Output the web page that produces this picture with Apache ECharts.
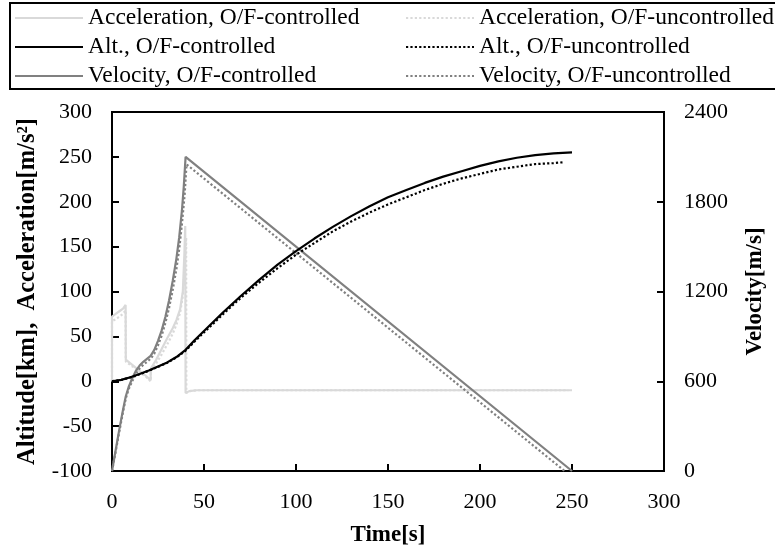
<!DOCTYPE html>
<html>
<head>
<meta charset="utf-8">
<script src="https://cdn.jsdelivr.net/npm/echarts@6/dist/echarts.min.js"></script>
<style>html,body{margin:0;padding:0;background:#fff}#c{width:775px;height:552px}</style>
</head>
<body>
<div id="c"></div>
<script>
// ---- data ----
const seriesNames = [
  'Acceleration, O/F-controlled', 'Acceleration, O/F-uncontrolled',
  'Alt., O/F-controlled', 'Alt., O/F-uncontrolled',
  'Velocity, O/F-controlled', 'Velocity, O/F-uncontrolled'
];
const xTicks = [0, 50, 100, 150, 200, 250, 300];
const leftTicks = [-100, -50, 0, 50, 100, 150, 200, 250, 300];
const rightTicks = [0, 600, 1200, 1800, 2400];

// Acceleration [m/s2]
const accelCtrlT = [0, 0, 2, 4, 6, 7.4, 7.5, 10, 13, 16, 19, 21, 21.1, 24, 27, 30, 33, 35, 37, 38.5, 39.3, 39.8, 40, 42, 46, 50, 100, 150, 200, 250];
const accelCtrlV = [0, 72, 75, 78, 81, 85, 24, 20, 15, 10, 5, 1, 14, 24, 36, 48, 59, 68, 80, 100, 140, 173, -13, -11, -10, -10, -10, -10, -10, -10];
const accelUncT = [0, 0, 2, 4, 6, 7.4, 7.5, 10, 13, 16, 19, 21, 21.1, 24, 27, 30, 33, 35, 37, 38.5, 39.5, 40.3, 40.4, 42, 46, 50, 100, 150, 200, 248];
const accelUncV = [0, 67, 69, 72, 75, 79, 22, 18, 14, 9, 4, 0, 12, 20, 30, 41, 53, 63, 76, 95, 125, 160, -13, -11, -10, -10, -10, -10, -10, -10];

// Altitude [km]
const altCtrlT = [0, 5, 10, 15, 20, 25, 30, 35, 40, 45, 50, 60, 70, 80, 90, 100, 110, 120, 130, 140, 150, 160, 170, 180, 190, 200, 210, 220, 230, 240, 250];
const altCtrlV = [0, 1.5, 4.5, 8, 12, 16.5, 21, 27, 35, 46, 56, 76, 95, 113, 130, 145, 159, 172, 184, 195, 205, 213, 221, 228, 234, 240, 245, 249, 252, 254, 255];
const altUncT = [0, 5, 10, 15, 20, 25, 30, 35, 40, 45, 50, 60, 70, 80, 90, 100, 110, 120, 130, 140, 150, 160, 170, 180, 190, 200, 210, 220, 230, 240, 245];
const altUncV = [0, 1.4, 4.3, 7.8, 11.7, 16, 20.5, 26.5, 34, 44.5, 54.5, 74, 93, 110, 126, 141, 154, 167, 178, 188, 197, 205, 213, 220, 226, 231, 236, 239, 242, 243, 244];

// Velocity [m/s]
const velCtrlT = [0, 1, 2, 3, 4, 5, 6, 7, 7.5, 9, 11, 13, 15, 17, 19, 21, 23, 25, 27, 29, 31, 33, 35, 36.5, 38, 39, 40, 250];
const velCtrlV = [0, 70, 140, 210, 280, 345, 410, 470, 500, 560, 620, 670, 705, 730, 750, 770, 810, 870, 940, 1030, 1140, 1270, 1420, 1560, 1740, 1900, 2100, 0];
const velUncT = [0, 2, 4, 6, 7.5, 9, 11, 13, 15, 17, 19, 21, 23, 25, 27, 29, 31, 33, 35, 36.5, 38, 39.5, 40.5, 246];
const velUncV = [0, 130, 265, 395, 485, 545, 600, 650, 685, 710, 730, 750, 785, 840, 905, 990, 1090, 1210, 1350, 1480, 1650, 1850, 2050, 0];

// ---- build ----
function zip(t, v) { return t.map((x, i) => [x, v[i]]); }
const FONT = '"Liberation Serif", "Times New Roman", serif';
const LIGHT = '#d9d9d9', GRAY = '#808080', BLACK = '#000000';

function lineSeries(name, t, v, color, dotted, yIdx, z) {
  return {
    name: name, type: 'line', yAxisIndex: yIdx, data: zip(t, v),
    showSymbol: false, symbol: 'none', smooth: false, z: z,
    lineStyle: { color: color, width: 2.2, type: dotted ? [2.2, 2.2] : 'solid' },
    itemStyle: { color: color },
    emphasis: { disabled: true }, animation: false
  };
}

const chart = echarts.init(document.getElementById('c'), null, { renderer: 'canvas' });
const axisLine = { show: true, onZero: false, lineStyle: { color: '#000', width: 2 } };
const axisTick = { show: true, inside: true, length: 7, lineStyle: { color: '#000', width: 2 } };
const labelStyle = { fontFamily: FONT, fontSize: 22, color: '#000', formatter: v => String(v) };
const nameStyle = { fontFamily: FONT, fontSize: 23, fontWeight: 'bold', color: '#000' };

const legendCommon = {
  orient: 'vertical', top: 6, padding: 0, itemWidth: 68, itemHeight: 12, itemGap: 5,
  textStyle: { fontFamily: FONT, fontSize: 23.5, color: '#000' },
  itemStyle: { opacity: 0 },
  selectedMode: false
};

chart.setOption({
  backgroundColor: '#ffffff',
  animation: false,
  textStyle: { fontFamily: FONT },
  grid: { left: 112, right: 107, top: 112, bottom: 78, show: true, borderColor: '#000', borderWidth: 2, backgroundColor: 'transparent' },
  legend: [
    Object.assign({}, legendCommon, { left: 14, data: [seriesNames[0], seriesNames[2], seriesNames[4]] }),
    Object.assign({}, legendCommon, { left: 405, data: [seriesNames[1], seriesNames[3], seriesNames[5]] })
  ],
  graphic: [{
    type: 'rect', silent: true, z: 100,
    shape: { x: 10, y: 3, width: 800, height: 86 },
    style: { fill: 'none', stroke: '#000', lineWidth: 2 }
  }],
  xAxis: {
    type: 'value', min: xTicks[0], max: xTicks[xTicks.length - 1], interval: 50,
    name: 'Time[s]', nameLocation: 'middle', nameGap: 53, nameTextStyle: nameStyle,
    axisLine: axisLine, axisTick: axisTick, splitLine: { show: false },
    axisLabel: Object.assign({ margin: 20 }, labelStyle)
  },
  yAxis: [{
    type: 'value', min: leftTicks[0], max: leftTicks[leftTicks.length - 1], interval: 50,
    name: 'Altitude[km],  Acceleration[m/s²]', nameLocation: 'middle', nameGap: 72,
    nameTextStyle: Object.assign({}, nameStyle, { fontSize: 24.5 }),
    axisLine: axisLine, axisTick: axisTick, splitLine: { show: false },
    axisLabel: Object.assign({ margin: 20 }, labelStyle)
  }, {
    type: 'value', position: 'right', min: rightTicks[0], max: rightTicks[rightTicks.length - 1], interval: 600,
    name: 'Velocity[m/s]', nameLocation: 'middle', nameGap: 80, nameTextStyle: nameStyle,
    axisLine: axisLine, axisTick: axisTick, splitLine: { show: false },
    axisLabel: Object.assign({ margin: 20 }, labelStyle)
  }],
  series: [
    lineSeries(seriesNames[0], accelCtrlT, accelCtrlV, LIGHT, false, 0, 2),
    lineSeries(seriesNames[1], accelUncT, accelUncV, LIGHT, true, 0, 2),
    lineSeries(seriesNames[2], altCtrlT, altCtrlV, BLACK, false, 0, 4),
    lineSeries(seriesNames[3], altUncT, altUncV, BLACK, true, 0, 4),
    lineSeries(seriesNames[4], velCtrlT, velCtrlV, GRAY, false, 1, 3),
    lineSeries(seriesNames[5], velUncT, velUncV, GRAY, true, 1, 3)
  ]
});
</script>
</body>
</html>
